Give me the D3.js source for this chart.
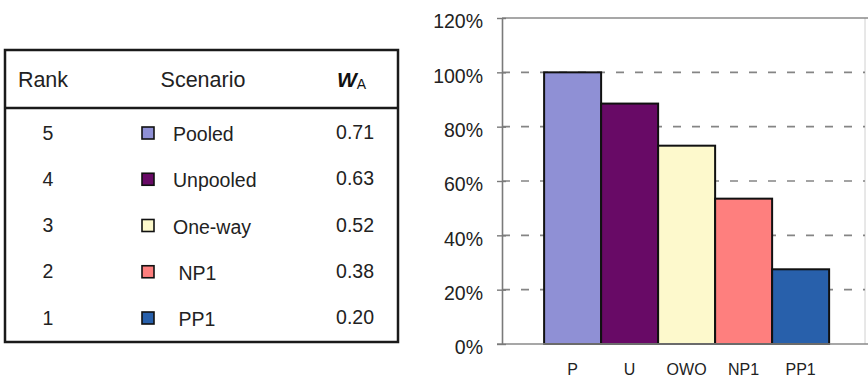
<!DOCTYPE html>
<html>
<head>
<meta charset="utf-8">
<script src="https://cdn.jsdelivr.net/npm/d3@7"></script>
<style>
  html, body { margin: 0; padding: 0; background: #fff; }
  svg { display: block; font-family: "Liberation Sans", Arial, sans-serif; }
</style>
</head>
<body>
<script>
// Ranking table data
const ranks = [5, 4, 3, 2, 1];
const scenarios = ["Pooled", "Unpooled", "One-way", " NP1", " PP1"];
const weights = [0.71, 0.63, 0.52, 0.38, 0.20];

// Bar chart data: weight relative to the best scenario
const barLabels = ["P", "U", "OWO", "NP1", "PP1"];
const relativeWeight = [1.00, 0.885, 0.73, 0.535, 0.275];
const yTicks = [0, 0.2, 0.4, 0.6, 0.8, 1.0, 1.2];
const gridTicks = [0.2, 0.4, 0.6, 0.8, 1.0];

const colors = ["#8f90d5", "#680a66", "#fdf9cc", "#fe7f7e", "#2860ab"];

const W = 868, H = 378;
const svg = d3.select("body").append("svg").attr("width", W).attr("height", H);
svg.append("rect").attr("width", W).attr("height", H).attr("fill", "#fff");

const textColor = "#222";

// ---------- Table ----------
const tbl = { x0: 5, x1: 398, y0: 50, yHead: 108, y1: 342 };
const tg = svg.append("g");

tg.append("rect")
  .attr("x", tbl.x0).attr("y", tbl.y0)
  .attr("width", tbl.x1 - tbl.x0).attr("height", tbl.y1 - tbl.y0)
  .attr("fill", "none").attr("stroke", "#1a1a1a").attr("stroke-width", 2.5);
tg.append("line")
  .attr("x1", tbl.x0).attr("x2", tbl.x1)
  .attr("y1", tbl.yHead).attr("y2", tbl.yHead)
  .attr("stroke", "#1a1a1a").attr("stroke-width", 2.5);

// header
const headBase = 87;
tg.append("text").attr("x", 43).attr("y", headBase).attr("text-anchor", "middle")
  .attr("font-size", 21.5).attr("fill", textColor).text("Rank");
tg.append("text").attr("x", 203).attr("y", headBase).attr("text-anchor", "middle")
  .attr("font-size", 21.5).attr("fill", textColor).text("Scenario");
const wa = tg.append("text").attr("x", 337).attr("y", headBase).attr("fill", "#111");
wa.append("tspan").attr("font-size", 21).attr("font-weight", "bold")
  .attr("font-style", "italic").text("W");
wa.append("tspan").attr("font-size", 14).attr("dy", 2).text("A");

// rows
const rowY = d3.scaleLinear().domain([0, 4]).range([139.5, 324.5]);
const rows = tg.selectAll("g.row").data(ranks.map((r, i) => ({
  rank: r, name: scenarios[i], w: weights[i], color: colors[i]
}))).join("g").attr("class", "row");

rows.append("text")
  .attr("x", 48).attr("y", (d, i) => rowY(i))
  .attr("text-anchor", "middle").attr("font-size", 19.5).attr("fill", textColor)
  .text(d => d.rank);
rows.append("rect")
  .attr("x", 142).attr("y", (d, i) => rowY(i) - 12.5)
  .attr("width", 12).attr("height", 12)
  .attr("fill", d => d.color).attr("stroke", "#111").attr("stroke-width", 1.6);
rows.append("text")
  .attr("x", 173).attr("y", (d, i) => rowY(i) + 1.5)
  .attr("font-size", 19.5).attr("fill", textColor)
  .style("white-space", "pre")
  .text(d => d.name);
rows.append("text")
  .attr("x", 374).attr("y", (d, i) => rowY(i) - 0.5)
  .attr("text-anchor", "end").attr("font-size", 19.5).attr("fill", textColor)
  .text(d => d3.format(".2f")(d.w));

// ---------- Bar chart ----------
const plot = { left: 502, right: 865, top: 18, bottom: 344 };
const y = d3.scaleLinear().domain([0, 1.2]).range([plot.bottom, plot.top]);
const x = d3.scaleBand().domain(barLabels)
  .range([plot.left, plot.right])
  .paddingInner(0).paddingOuter(0.684).align(0.54);

const cg = svg.append("g");

// plot frame (right edge faint)
cg.append("line")
  .attr("x1", plot.right).attr("x2", plot.right)
  .attr("y1", plot.top).attr("y2", plot.bottom)
  .attr("stroke", "#d0d0d0").attr("stroke-width", 1);

// dashed gridlines
cg.selectAll("line.grid").data(gridTicks).join("line").attr("class", "grid")
  .attr("x1", plot.left).attr("x2", plot.right)
  .attr("y1", d => y(d)).attr("y2", d => y(d))
  .attr("stroke", "#858585").attr("stroke-width", 1.6)
  .attr("stroke-dasharray", "8,11");

// top border at 120%
cg.append("line")
  .attr("x1", plot.left).attr("x2", W)
  .attr("y1", y(1.2)).attr("y2", y(1.2))
  .attr("stroke", "#8a8a8a").attr("stroke-width", 1.6);

// bars
cg.selectAll("rect.bar").data(barLabels.map((k, i) => ({ k, v: relativeWeight[i], c: colors[i] })))
  .join("rect").attr("class", "bar")
  .attr("x", d => x(d.k)).attr("width", x.bandwidth())
  .attr("y", d => y(d.v)).attr("height", d => y(0) - y(d.v))
  .attr("fill", d => d.c).attr("stroke", "#111").attr("stroke-width", 2);

// x axis baseline
cg.append("line")
  .attr("x1", plot.left - 5).attr("x2", W)
  .attr("y1", y(0)).attr("y2", y(0))
  .attr("stroke", "#8a8a8a").attr("stroke-width", 1.6);

// category labels
cg.selectAll("text.cat").data(barLabels).join("text").attr("class", "cat")
  .attr("x", d => x(d) + x.bandwidth() / 2).attr("y", 375)
  .attr("text-anchor", "middle").attr("font-size", 16).attr("fill", textColor)
  .text(d => d);

// y axis
const yAxis = d3.axisLeft(y).tickValues(yTicks)
  .tickFormat(d3.format(".0%")).tickSize(5).tickSizeOuter(0).tickPadding(14);
const ya = cg.append("g").attr("transform", `translate(${plot.left},0)`).call(yAxis);
ya.select(".domain").attr("stroke", "#7a7a7a").attr("stroke-width", 1.6);
ya.selectAll(".tick line").attr("stroke", "#7a7a7a").attr("stroke-width", 1.4).attr("x1", 4);
ya.selectAll(".tick text")
  .attr("font-size", 19.5).attr("fill", textColor)
  .attr("font-family", "Liberation Sans, Arial, sans-serif")
  .attr("dy", "0.5em");
</script>
</body>
</html>
